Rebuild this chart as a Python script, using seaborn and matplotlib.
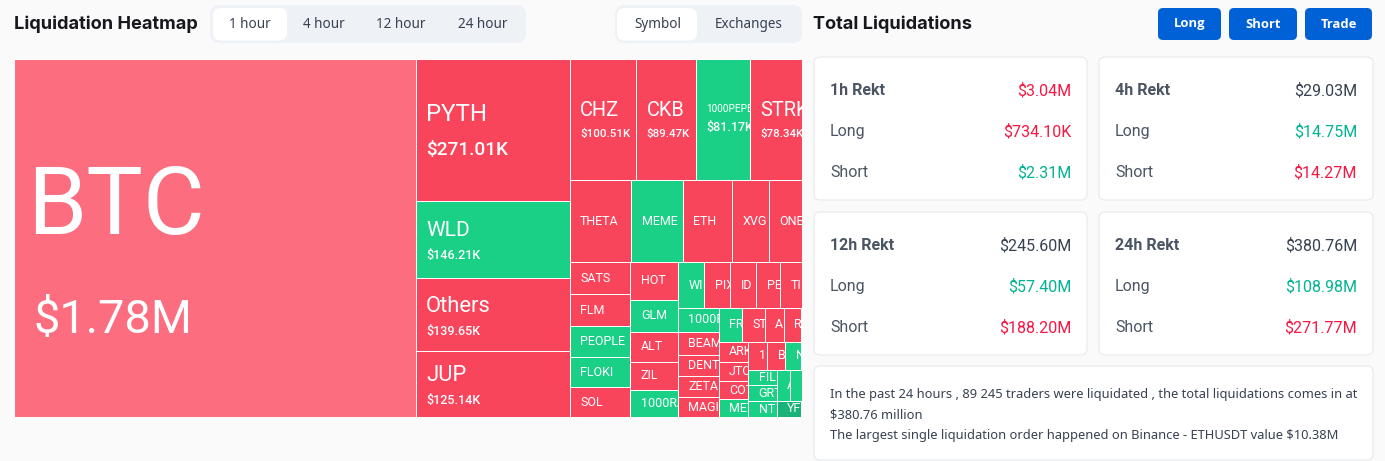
import matplotlib
matplotlib.use("Agg")
import matplotlib.pyplot as plt
from matplotlib.patches import FancyBboxPatch
import seaborn as sns

# ---------- data ----------
# names as far as the reference shows them (small cells cut them off)
symbols = ["BTC", "PYTH", "WLD", "Others", "JUP", "CHZ", "CKB", "1000PEPE", "STRK",
           "THETA", "MEME", "ETH", "XVG", "ONE", "SATS", "FLM", "PEOPLE", "FLOKI", "SOL",
           "HOT", "GLM", "ALT", "ZIL", "1000RA", "WI", "PIX", "ID", "PE", "TI",
           "1000F", "BEAM", "DENT", "ZETA", "MAGI", "FR", "ST", "A", "R",
           "ARK", "JTO", "COT", "MET", "1", "B", "N", "FIL", "GRT", "NT",
           "A ", "", "YF"]
values_k = [1780, 271.01, 146.21, 139.65, 125.14, 100.51, 89.47, 81.17, 78.34,
            62.4, 52, 50, 37.5, 33, 24, 24, 23, 22.5, 22.5,
            21.7, 18.8, 17.6, 16.4, 16, 15, 14.6, 14.6, 13.5, 11.8,
            12, 11.5, 11, 10.5, 10, 9.7, 9.7, 8, 7.5,
            7.3, 7.1, 6.5, 6.5, 6.5, 6.2, 5.5, 5.6, 5.6, 5.6,
            5.0, 4.5, 5.0]
short_side = ["WLD", "1000PEPE", "MEME", "PEOPLE", "FLOKI", "GLM", "1000RA", "WI",
              "1000F", "FR", "MET", "N", "FIL", "GRT", "NT", "A ", "", "YF"]
value_labelled = ["BTC", "PYTH", "WLD", "Others", "JUP", "CHZ", "CKB", "1000PEPE", "STRK"]

periods = ["1h Rekt", "4h Rekt", "12h Rekt", "24h Rekt"]
total_text = ["$3.04M", "$29.03M", "$245.60M", "$380.76M"]
long_text = ["$734.10K", "$14.75M", "$57.40M", "$108.98M"]
short_text = ["$2.31M", "$14.27M", "$188.20M", "$271.77M"]

time_tabs = ["1 hour", "4 hour", "12 hour", "24 hour"]
view_tabs = ["Symbol", "Exchanges"]
buttons = ["Long", "Short", "Trade"]
message = ["In the past 24 hours , 89 245 traders were liquidated , the total liquidations comes in at",
           "$380.76 million",
           "The largest single liquidation order happened on Binance - ETHUSDT value $10.38M"]

# nesting of the treemap: 'h' splits side by side, 'v' stacks
tree = ("h", ["BTC",
    ("v", ["PYTH", "WLD", "Others", "JUP"]),
    ("v", [("h", ["CHZ", "CKB", "1000PEPE", "STRK"]),
           ("h", ["THETA", "MEME", "ETH", "XVG", "ONE"]),
           ("h", [("v", ["SATS", "FLM", "PEOPLE", "FLOKI", "SOL"]),
                  ("v", ["HOT", "GLM", "ALT", "ZIL", "1000RA"]),
                  ("v", [("h", ["WI", "PIX", "ID", "PE", "TI"]),
                         ("h", [("v", ["1000F", "BEAM", "DENT", "ZETA", "MAGI"]),
                                ("v", [("h", ["FR", "ST", "A", "R"]),
                                       ("h", [("v", ["ARK", "JTO", "COT", "MET"]),
                                              ("v", [("h", ["1", "B", "N"]),
                                                     ("h", [("v", ["FIL", "GRT", "NT"]),
                                                            ("v", [("h", ["A ", ""]), "YF"])])])])])])])])])])

# ---------- theme ----------
BG = "#FAFAFA"
RED, RED_LIGHT, GREEN, GREEN_DARK = sns.color_palette(["#F8455C", "#FB6D7F", "#1AD086", "#19B377"])
UP, DOWN, DARK, GREY = "#00B393", "#F61743", "#374151", "#4B5563"
sns.set_theme(style="white", rc={"figure.facecolor": BG, "axes.facecolor": BG})
plt.rcParams["font.family"] = ["Roboto", "DejaVu Sans"]
PT = 0.72  # points per pixel at dpi 100

W, H = 1385, 461
fig = plt.figure(figsize=(W / 100, H / 100), dpi=100)

# ---------- page furniture, in pixel units ----------
ui = fig.add_axes([0, 0, 1, 1])
ui.set_xlim(0, W)
ui.set_ylim(H, 0)
ui.axis("off")


def box(x0, y0, x1, y1, face, edge="none", r=6, lw=0.8, z=1):
    ui.add_patch(FancyBboxPatch((x0 + r, y0 + r), x1 - x0 - 2 * r, y1 - y0 - 2 * r,
                                boxstyle=f"round,pad={r},rounding_size={r}",
                                fc=face, ec=edge, lw=lw, zorder=z))


def say(x, y, s, px, color=DARK, ha="left", weight="normal", family="Noto Sans", **kw):
    ui.text(x, y, s, fontsize=px * PT, color=color, ha=ha, va="center",
            fontweight=weight, family=[family, "DejaVu Sans"], zorder=5, **kw)


say(14, 24, "Liquidation Heatmap", 18.2, "#16181D", weight="bold", family="Inter")
say(813, 24, "Total Liquidations", 18.2, "#16181D", weight="bold", family="Inter")

box(210, 5, 526, 43, "#EEF1F6", r=10)
box(213, 8, 287, 40.5, "white", r=8, z=2)
for cx, s in zip([250, 323.5, 401, 482.5], time_tabs):
    say(cx, 25, s, 13.5, "#374151", ha="center")

box(615, 5, 802, 43, "#EEF1F6", r=10)
box(617, 8, 697, 40.5, "white", r=8, z=2)
for cx, s in zip([657.5, 748.5], view_tabs):
    say(cx, 25, s, 13.5, "#374151", ha="center")

for (x0, x1), s in zip([(1158, 1221), (1229, 1297), (1305, 1372)], buttons):
    box(x0, 8, x1, 40, "#0061D6", r=5)
    say((x0 + x1) / 2, 24, s, 13, "white", ha="center", weight="bold", family="Open Sans")

card_x = [(814, 1087), (1099, 1373), (814, 1087), (1099, 1373)]
card_y = [(57, 200), (57, 200), (212, 355), (212, 355)]
first = [DOWN, DARK, DARK, DARK]
longs = [DOWN, UP, UP, UP]
shorts = [UP, DOWN, DOWN, DOWN]
CARD_PX = 16
for i, name in enumerate(periods):
    (x0, x1), (y0, y1) = card_x[i], card_y[i]
    box(x0, y0, x1, y1, "white", edge="#E7E9EC", r=6)
    left, right = x0 + 16, x1 - 16
    say(left, y0 + 33.5, name, CARD_PX, GREY, weight="bold", family="Roboto")
    say(right, y0 + 33.5, total_text[i], CARD_PX, first[i], ha="right", family="Roboto")
    say(left, y0 + 74.5, "Long", CARD_PX, GREY, family="Roboto")
    say(right, y0 + 74.5, long_text[i], CARD_PX, longs[i], ha="right", family="Roboto")
    say(left, y0 + 115.5, "Short", CARD_PX, GREY, family="Roboto")
    say(right, y0 + 115.5, short_text[i], CARD_PX, shorts[i], ha="right", family="Roboto")

box(814, 366, 1373, 460, "white", edge="#E7E9EC", r=6)
for y, line in zip([394, 415, 435], message):
    say(830, y, line, 12.9, "#374151")

# ---------- treemap ----------
value_of = dict(zip(symbols, values_k))


def weight(node):
    return value_of[node] if isinstance(node, str) else sum(weight(c) for c in node[1])


def lay_out(node, x, y, w, h, out):
    if isinstance(node, str):
        out.append((node, x, y, w, h))
        return out
    total = weight(node)
    for child in node[1]:
        share = weight(child) / total
        if node[0] == "h":
            lay_out(child, x, y, w * share, h, out)
            x += w * share
        else:
            lay_out(child, x, y, w, h * share, out)
            y += h * share
    return out


ax = fig.add_axes([14 / W, 1 - 417 / H, 787.5 / W, 358.5 / H])
ax.set_xlim(0, 1)
ax.set_ylim(1, 0)
ax.set_axis_off()
sns.despine(ax=ax, left=True, bottom=True)

# font px name, font px value, label dy, value dy, value extra pad, value weight
STYLE = {"BTC": (95, 47, -30, 82, 6, "normal"), "PYTH": (24, 19, -15, 20, 0, "medium"),
         "WLD": (21, 12.5, -9, 16, 0, "medium"), "Others": (22, 12.5, -8, 17, 0, "medium"),
         "JUP": (22, 12.5, -9, 16, 0, "medium"),
         "CHZ": (20, 11.5, -9, 14, 0, "medium"), "CKB": (20, 11.5, -9, 14, 0, "medium"),
         "STRK": (20, 11.5, -9, 14, 0, "medium"),
         "1000PEPE": (10, 12.5, -10, 8, 0, "medium")}
PAD = {"BTC": 13}

for name, x, y, w, h in lay_out(tree, 0, 0, 1, 1, []):
    if name == "BTC":
        color = RED_LIGHT
    elif name == "YF":
        color = GREEN_DARK
    else:
        color = GREEN if name in short_side else RED
    rect = ax.bar(x, h, width=w, bottom=y, align="edge", color=color,
                  edgecolor="white", linewidth=1 * PT, zorder=2)[0]
    pad = PAD.get(name, 10.5)
    mid = (x, y + h / 2)
    if name in value_labelled:
        p1, p2, d1, d2, extra, wt2 = STYLE[name]
        amount = value_of[name]
        amount = f"${amount / 1000:.2f}M" if amount >= 1000 else f"${amount:.2f}K"
        pairs = [(name, p1, d1, 0, "normal"), (amount, p2, d2, extra, wt2)]
    elif name:
        pairs = [(name, 12.5, 0, 0, "normal")]
    else:
        pairs = []
    for s, px, dy, extra, wt in pairs:
        t = ax.annotate(s, xy=mid, xytext=((pad + extra) * PT, -dy * PT), textcoords="offset points",
                        fontsize=px * PT, color="white", va="center", ha="left", fontweight=wt,
                        family=["Roboto", "DejaVu Sans"], zorder=3, annotation_clip=False)
        t.set_clip_path(rect)

fig.savefig("out.png", dpi=100, facecolor=BG)
